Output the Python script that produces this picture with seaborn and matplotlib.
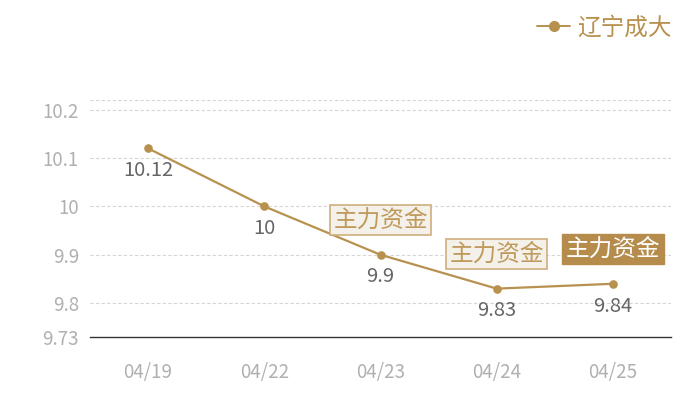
import matplotlib
matplotlib.use("Agg")
import matplotlib.pyplot as plt
import seaborn as sns
import pandas as pd
from matplotlib.lines import Line2D

# ── Datos ──────────────────────────────────────────────────────────────────────
fechas = ["04/19", "04/22", "04/23", "04/24", "04/25"]
precios = [10.12, 10.0, 9.9, 9.83, 9.84]
serie = "辽宁成大"
marcas = ["", "", "主力资金", "主力资金", "主力资金"]
marca_activa = [False, False, False, False, True]
yticks = [9.73, 9.8, 9.9, 10, 10.1, 10.2]
ytick_labels = ["9.73", "9.8", "9.9", "10", "10.1", "10.2"]

ORO = "#b8914f"
GRIS_TXT = "#666666"
GRIS_EJE = "#b0b0b0"

sns.set_style("white")
plt.rcParams["font.family"] = ["Noto Sans CJK SC", "DejaVu Sans"]

df = pd.DataFrame({"fecha": fechas, "precio": precios})

fig = plt.figure(figsize=(7, 4), dpi=100)
ax = fig.add_axes([0.1286, 0.1575, 0.83, 0.5925])

sns.pointplot(data=df, x="fecha", y="precio", color=ORO, ax=ax,
              markers="o", linestyles="-", markersize=5, linewidth=1.6)

ax.set_xlim(-0.5, len(fechas) - 0.5)
ax.set_ylim(9.73, 10.22)

# rejilla punteada
for v in yticks[1:] + [10.22]:
    ax.axhline(v, color="#d5d5d5", lw=0.8, ls=(0, (3, 2)), zorder=0)

ax.set_yticks(yticks)
ax.set_yticklabels(ytick_labels)
ax.tick_params(axis="y", length=0, colors=GRIS_EJE, labelsize=13.5, pad=8)
ax.tick_params(axis="x", length=0, colors=GRIS_EJE, labelsize=13.5, pad=18)
ax.set_xlabel("")
ax.set_ylabel("")
for lado in ["left", "right", "top"]:
    ax.spines[lado].set_visible(False)
ax.spines["bottom"].set_color("#333333")
ax.spines["bottom"].set_linewidth(1.0)

# etiquetas de valor
for i, p in enumerate(precios):
    ax.annotate(f"{p:g}", (i, p), xytext=(0, -16), textcoords="offset points",
                ha="center", va="center", fontsize=14.5, color=GRIS_TXT)

# cajas "主力资金"
for i, (txt, activa) in enumerate(zip(marcas, marca_activa)):
    if not txt:
        continue
    if activa:
        caja = dict(boxstyle="square,pad=0.16", fc="#b58c4c", ec="#b58c4c")
        col = "white"
    else:
        caja = dict(boxstyle="square,pad=0.14", fc="#f4f0ea", ec="#cfae7c", lw=1.2)
        col = "#c09a5b"
    ax.annotate(txt, (i, precios[i]), xytext=(0, 25), textcoords="offset points",
                ha="center", va="center", fontsize=17, color=col, bbox=caja)

# leyenda
h = Line2D([], [], color=ORO, marker="o", markersize=7, lw=1.4)
leg = fig.legend([h], [serie], loc="upper right", bbox_to_anchor=(0.99, 1.012),
                 frameon=False, fontsize=17, handlelength=1.4, handletextpad=0.3)
for t in leg.get_texts():
    t.set_color(ORO)

fig.savefig("out.png", dpi=100)
